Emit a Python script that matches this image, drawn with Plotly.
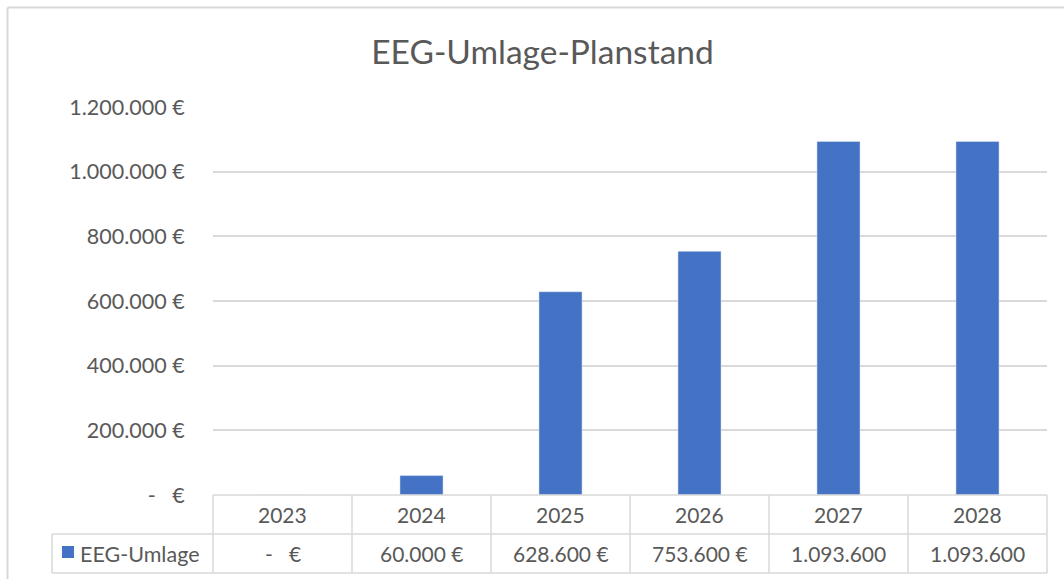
import plotly.graph_objects as go

# ---- data ----
years = ["2023", "2024", "2025", "2026", "2027", "2028"]
eeg_umlage = [0, 60000, 628600, 753600, 1093600, 1093600]
table_labels = ["-   €", "60.000 €", "628.600 €", "753.600 €", "1.093.600", "1.093.600"]
y_tickvals = [0, 200000, 400000, 600000, 800000, 1000000, 1200000]
y_ticktext = ["-   €", "200.000 €", "400.000 €", "600.000 €", "800.000 €", "1.000.000 €", "1.200.000 €"]
series_name = "EEG-Umlage"
title_text = "EEG-Umlage-Planstand"

# ---- layout geometry (pixels) ----
W, H = 1064, 579
PX_L, PX_R = 213, 1047      # plot area left / right
PY_T, PY_B = 107, 495       # plot area top / bottom (zero line)
ROW1_B = 534                # header row bottom
ROW2_B = 573                # data row bottom
LEG_L = 52                  # legend cell left

def fx(x):
    return x / W

def fy(y):
    return 1 - y / H

GRID = "#D9D9D9"
TXT = "#595959"
BLUE = "#4472C4"
FONT = "Lato, Open Sans, sans-serif"

fig = go.Figure()
fig.add_trace(go.Bar(x=years, y=eeg_umlage, marker_color=BLUE, name=series_name,
                     showlegend=False, hoverinfo="x+y"))

shapes = []

def hline(y, x0, x1, w=1.5):
    shapes.append(dict(type="line", xref="paper", yref="paper",
                       x0=fx(x0), x1=fx(x1), y0=fy(y), y1=fy(y),
                       line=dict(color=GRID, width=w)))

def vline(x, y0, y1, w=1.5):
    shapes.append(dict(type="line", xref="paper", yref="paper",
                       x0=fx(x), x1=fx(x), y0=fy(y0), y1=fy(y1),
                       line=dict(color=GRID, width=w)))

# chart border (left and top edges visible in the crop)
hline(7.5, 7.5, W, w=2)
vline(7.5, 7.5, H, w=2)

# data table grid
hline(PY_B, PX_L, PX_R)
hline(ROW1_B, LEG_L, PX_R)
hline(ROW2_B, LEG_L, PX_R)
vline(LEG_L, ROW1_B, ROW2_B)
n = len(years)
colw = (PX_R - PX_L) / n
for i in range(n + 1):
    vline(PX_L + i * colw, PY_B, ROW2_B)

annotations = []
for i, (yr, lab) in enumerate(zip(years, table_labels)):
    cx = PX_L + (i + 0.5) * colw
    annotations.append(dict(xref="paper", yref="paper", x=fx(cx), y=fy((PY_B + ROW1_B) / 2),
                            text=yr, showarrow=False, xanchor="center", yanchor="middle",
                            font=dict(family=FONT, size=21, color=TXT)))
    annotations.append(dict(xref="paper", yref="paper", x=fx(cx), y=fy((ROW1_B + ROW2_B) / 2),
                            text=lab, showarrow=False, xanchor="center", yanchor="middle",
                            font=dict(family=FONT, size=21, color=TXT)))
# legend key
shapes.append(dict(type="rect", xref="paper", yref="paper",
                   x0=fx(62), x1=fx(74), y0=fy(546), y1=fy(558),
                   fillcolor=BLUE, line=dict(width=0)))
annotations.append(dict(xref="paper", yref="paper", x=fx(78), y=fy((ROW1_B + ROW2_B) / 2),
                        text=series_name, showarrow=False, xanchor="left", yanchor="middle",
                        font=dict(family=FONT, size=21.5, color=TXT)))

fig.update_layout(
    width=W, height=H,
    margin=dict(l=0, r=0, t=0, b=0, pad=0, autoexpand=False),
    paper_bgcolor="white", plot_bgcolor="white",
    title=dict(text=title_text, x=fx(542.5), xanchor="center", xref="paper",
               y=fy(52), yanchor="middle", yref="paper",
               font=dict(family=FONT, size=33.5, color=TXT)),
    bargap=0.69,
    xaxis=dict(domain=[fx(PX_L), fx(PX_R)], range=[-0.5, n - 0.5],
               showticklabels=False, showgrid=False, zeroline=False, showline=False,
               ticks=""),
    yaxis=dict(domain=[fy(PY_B), fy(PY_T)], range=[0, 1200000],
               tickvals=y_tickvals, ticktext=y_ticktext,
               showgrid=True, gridcolor=GRID, gridwidth=1.5, zeroline=False, showline=False,
               ticks="outside", ticklen=23, tickcolor="rgba(0,0,0,0)",
               tickfont=dict(family=FONT, size=21.5, color=TXT)),
    shapes=shapes, annotations=annotations,
    font=dict(family=FONT, color=TXT),
)

fig.write_html("out.html", config={"displayModeBar": False},
               post_script="document.body.style.margin='0';document.body.style.overflow='hidden';")
